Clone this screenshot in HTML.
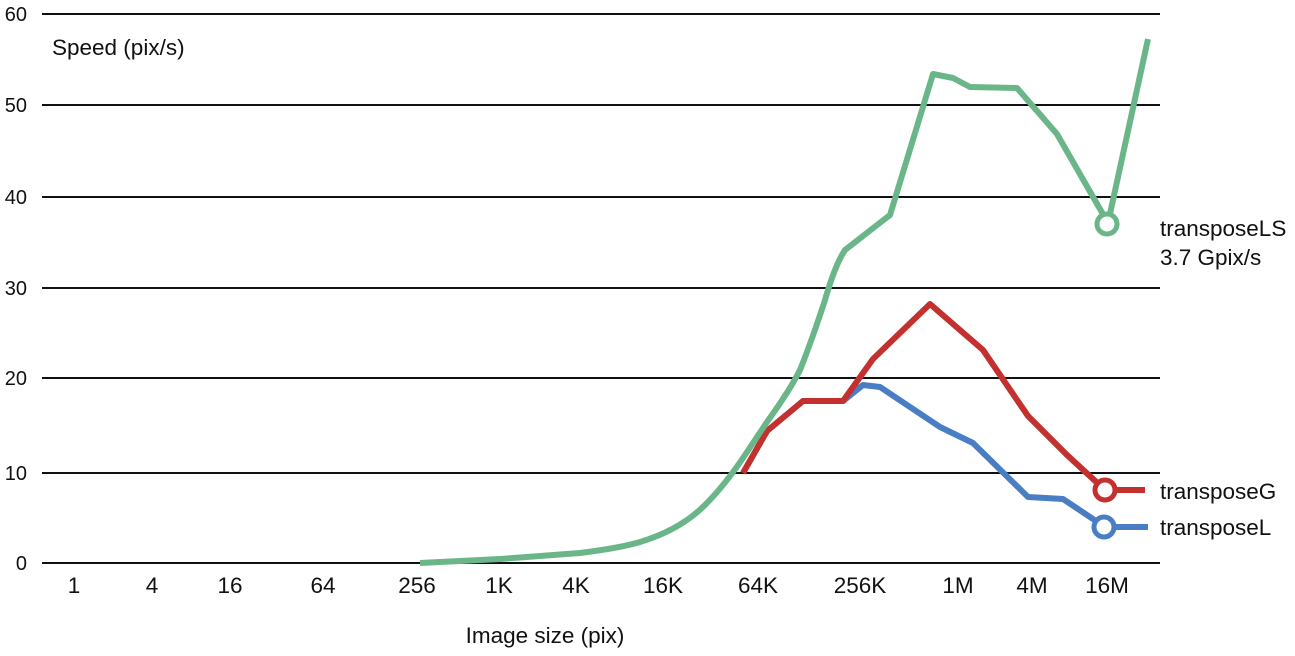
<!DOCTYPE html>
<html><head><meta charset="utf-8"><style>
html,body{margin:0;padding:0;background:#fff;}
svg{display:block;font-family:"Liberation Sans",Arial,sans-serif;}
</style></head><body>
<svg width="1295" height="656" viewBox="0 0 1295 656">
<g stroke="#111" stroke-width="2">
<line x1="42" y1="14" x2="1160" y2="14"/>
<line x1="42" y1="105" x2="1160" y2="105"/>
<line x1="42" y1="197" x2="1160" y2="197"/>
<line x1="42" y1="288" x2="1160" y2="288"/>
<line x1="42" y1="378" x2="1160" y2="378"/>
<line x1="42" y1="473" x2="1160" y2="473"/>
<line x1="42" y1="563" x2="1160" y2="563"/>
</g>
<g font-size="20" fill="#111" text-anchor="end">
<text x="27" y="21">60</text>
<text x="27" y="112">50</text>
<text x="27" y="204">40</text>
<text x="27" y="295">30</text>
<text x="27" y="385">20</text>
<text x="27" y="480">10</text>
<text x="27" y="570">0</text>
</g>
<text x="52" y="55" font-size="22.5" fill="#111">Speed (pix/s)</text>
<g font-size="22.5" fill="#111" text-anchor="middle">
<text x="74" y="593">1</text>
<text x="152" y="593">4</text>
<text x="230" y="593">16</text>
<text x="323" y="593">64</text>
<text x="417" y="593">256</text>
<text x="499" y="593">1K</text>
<text x="576" y="593">4K</text>
<text x="663" y="593">16K</text>
<text x="758" y="593">64K</text>
<text x="860" y="593">256K</text>
<text x="958" y="593">1M</text>
<text x="1032" y="593">4M</text>
<text x="1107" y="593">16M</text>
<text x="545" y="643">Image size (pix)</text>
</g>
<g fill="none" stroke-width="6" stroke-linejoin="round">
<polyline stroke="#4a7ec4" points="743,473 767,431 803,401 843,401 863,385 880,387 913,409 940,427 973,443 1028,497 1063,499 1105,527 1148,527"/>
<polyline stroke="#c4302e" points="743,473 767,431 803,401 843,401 873,359 930,304 983,350 1028,416 1067,455 1105,490 1145,490"/>
<path stroke="#6bb688" d="M420,563 L500,559 L580,553 Q620,548 640,542 Q680,530 705,505 Q725,485 745,455 L767,422 Q790,390 800,370 Q812,340 825,300 Q835,265 845,250 L890,215 L933,74 L953,78 L970,87 L1017,88 L1057,134 L1108,223 L1148,39"/>
</g>
<g fill="#fff" stroke-width="5">
<circle cx="1107" cy="224" r="10" stroke="#6bb688"/>
<circle cx="1105" cy="490" r="10" stroke="#c4302e"/>
<circle cx="1104" cy="527" r="10" stroke="#4a7ec4"/>
</g>
<g font-size="22.5" fill="#111">
<text x="1160" y="236">transposeLS</text>
<text x="1160" y="265">3.7 Gpix/s</text>
<text x="1160" y="499">transposeG</text>
<text x="1160" y="535">transposeL</text>
</g>
</svg>
</body></html>
